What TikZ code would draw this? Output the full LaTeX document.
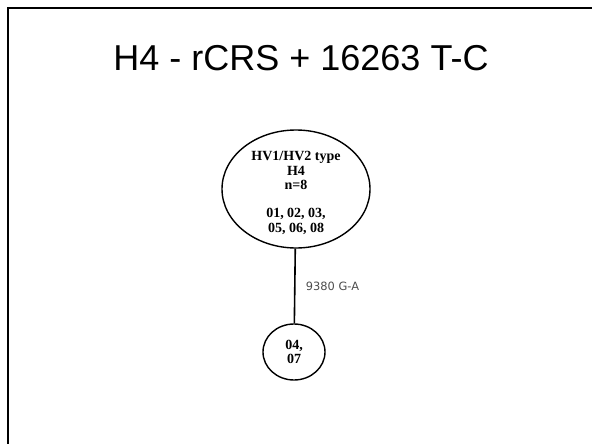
\documentclass[tikz,border=0pt]{standalone}
\usepackage{fontspec}
\setmainfont{Liberation Serif}
\newfontfamily\titlefont{Liberation Sans}
\newfontfamily\mutfont{DejaVu Sans}
\usetikzlibrary{shapes.geometric}
\begin{document}
\begin{tikzpicture}[x=1pt, y=-1pt,
    hap/.style={draw, line width=1.4pt, ellipse, inner sep=-30pt, align=center,
      font=\fontsize{14}{14.4}\selectfont\bfseries},
    mut/.style={font=\mutfont\fontsize{11.4}{13}\selectfont, text=black!70}]
    \useasboundingbox (0,0) rectangle (592,444);
    % slide frame
    \draw[line width=2.5pt] (8,444) -- (8,8) -- (592,8);
    \node[font=\titlefont\fontsize{36}{40}\selectfont] (title) at (301,58) {H4 - rCRS + 16263 T-C};

    \node[hap, minimum width=148pt, minimum height=118pt] (h4) at (296,189)
      {\rule{0pt}{17pt}HV1/HV2 type\\ H4\\ n=8\\[14pt] 01, 02, 03,\\ 05, 06, 08};
    \node[hap, minimum width=62pt, minimum height=56pt] (sub) at (294,352) {04,\\ 07};
    \draw[line width=1.6pt] (h4) -- (sub) node[midway, right=7pt, mut] {9380 G-A};
\end{tikzpicture}
\end{document}
